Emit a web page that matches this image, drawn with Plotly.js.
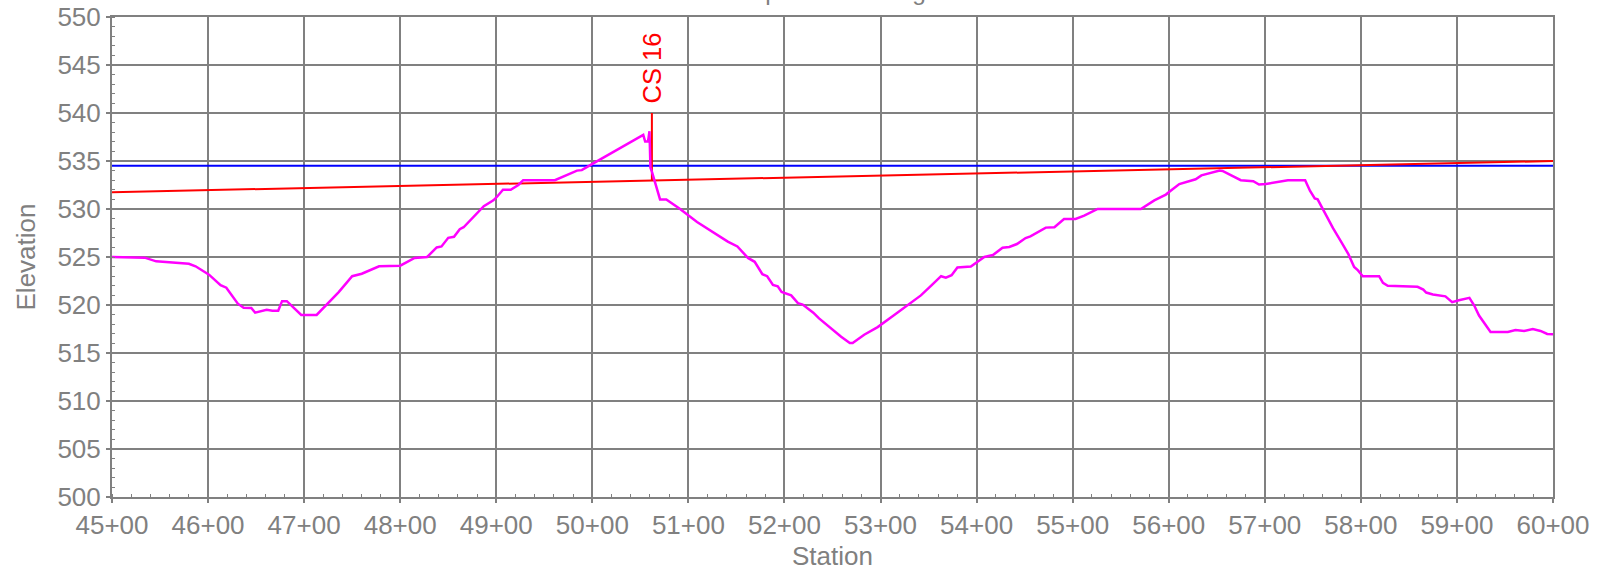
<!DOCTYPE html>
<html>
<head>
<meta charset="utf-8">
<script src="https://cdn.plot.ly/plotly-3.0.1.min.js"></script>
<style>html,body{margin:0;padding:0;background:#fff;}#chart{width:1600px;height:572px;}</style>
</head>
<body>
<div id="chart"></div>
<script>
// Ground profile (station, elevation)
const groundStation = [4500,4534,4546,4560,4572,4580,4587,4601,4613,4619,4631,4637,4645,4649,4661,4667,4673,4677,4682,4687,4697,4713,4723,4736,4750,4760,4778,4800,4815,4828,4838,4843,4850,4856,4862,4866,4887,4897,4901,4907,4915,4923,4928,4961,4984,4989,5001,5053,5055,5058,5059.5,5060.5,5062,5070.5,5077,5091,5109,5125,5141,5151,5162,5169,5172,5177,5182,5188,5193,5197,5207,5214,5219,5230,5236,5250,5259,5268,5271,5283,5297,5315,5329,5342,5353,5363,5368,5374,5380,5394,5408,5417,5427,5434,5442,5451,5456,5472,5481,5491,5503,5512,5526,5571,5585,5597,5602,5611,5628,5634,5653,5656,5675,5688,5694,5701,5724,5742,5747,5752,5755,5771,5780,5787,5793,5797,5802,5819,5823,5828,5859,5865,5868,5875,5888,5895,5902,5913,5918,5923,5935,5953,5961,5970,5979,5987,5994,6000];
const groundElev = [525.0,524.93,524.55,524.44,524.34,524.3,524.03,523.16,522.06,521.8,520.14,519.72,519.69,519.2,519.5,519.4,519.4,520.4,520.4,519.9,518.96,518.96,519.97,521.35,523.0,523.26,524.03,524.1,524.9,525.0,526.0,526.1,527.0,527.1,527.9,528.1,530.3,530.9,531.3,532.0,532.0,532.5,533.0,533.0,534.0,534.05,534.76,537.73,537.03,537.03,538.1,534.3,533.9,531.0,531.0,530.03,528.65,527.6,526.6,526.1,524.9,524.5,524.0,523.2,523.0,522.1,521.95,521.35,521.0,520.2,520.05,519.2,518.6,517.4,516.7,516.04,516.04,516.9,517.7,519.0,520.07,521.0,522.05,523.0,522.85,523.1,523.9,524.0,525.0,525.2,525.97,526.05,526.35,526.97,527.15,528.06,528.1,528.96,528.96,529.3,530.0,530.0,530.9,531.5,531.9,532.6,533.1,533.5,534.0,533.96,533.0,532.9,532.55,532.6,533.0,533.0,531.9,531.1,531.0,528.0,526.5,525.3,523.96,523.6,523.0,523.0,522.3,522.0,521.9,521.6,521.3,521.1,520.9,520.3,520.5,520.75,519.95,518.9,517.2,517.2,517.4,517.3,517.5,517.3,516.98,516.95];

// Blue level line
const blueStation = [4500, 6000];
const blueElev = [534.5, 534.5];

// Red grade line
const redStation = [4500, 6000];
const redElev = [531.75, 535.0];

// Cross-section marker
const csStation = 5062;
const csTop = 540;
const csLabel = "CS 16";

// Axis ticks
const xTickVals = [4500,4600,4700,4800,4900,5000,5100,5200,5300,5400,5500,5600,5700,5800,5900,6000];
const xTickText = ["45+00","46+00","47+00","48+00","49+00","50+00","51+00","52+00","53+00","54+00","55+00","56+00","57+00","58+00","59+00","60+00"];
const yTickVals = [500,505,510,515,520,525,530,535,540,545,550];

const chartTitle = "Proposed Grading";

// red elevation at CS station (interpolated from red line data)
const csBottom = redElev[0] + (redElev[1]-redElev[0])*(csStation-redStation[0])/(redStation[1]-redStation[0]);

const gray = "#808080";
const fontFam = "'Liberation Sans', Arial, sans-serif";

const traces = [
  {x: blueStation, y: blueElev, mode: "lines", line: {color: "#0000FF", width: 2}, hoverinfo: "skip"},
  {x: redStation, y: redElev, mode: "lines", line: {color: "#FF0000", width: 2}, hoverinfo: "skip"},
  {x: [csStation, csStation], y: [csBottom, csTop], mode: "lines", line: {color: "#FF0000", width: 2}, hoverinfo: "skip"},
  {x: groundStation, y: groundElev, mode: "lines", line: {color: "#FF00FF", width: 2.5}, hoverinfo: "skip"}
];

const layout = {
  width: 1600, height: 572,
  margin: {l: 112, r: 47, t: 17, b: 75},
  paper_bgcolor: "#fff", plot_bgcolor: "#fff",
  showlegend: false,
  font: {family: fontFam, color: gray, size: 26},
  title: {text: chartTitle, font: {family: fontFam, size: 24.5, color: gray}, x: 0.4958, xref: "paper", y: 1.0, yref: "container", yanchor: "bottom"},
  xaxis: {
    range: [4500, 6000], tickmode: "array", tickvals: xTickVals, ticktext: xTickText,
    showgrid: true, gridcolor: gray, gridwidth: 2,
    showline: true, linecolor: gray, linewidth: 2, mirror: true,
    ticks: "outside", ticklen: 4, tickcolor: gray, tickwidth: 2,
    tickfont: {size: 26, color: gray},
    zeroline: false,
    minor: {dtick: 20, ticks: "inside", ticklen: 3, tickcolor: gray, tickwidth: 1, showgrid: false},
    title: {text: "Station", font: {size: 26, color: gray}, standoff: 8}
  },
  yaxis: {
    range: [500, 550], tickmode: "array", tickvals: yTickVals,
    showgrid: true, gridcolor: gray, gridwidth: 2,
    showline: true, linecolor: gray, linewidth: 2, mirror: true,
    ticks: "outside", ticklen: 4, tickcolor: gray, tickwidth: 2,
    tickfont: {size: 26, color: gray},
    zeroline: false,
    minor: {dtick: 1, ticks: "inside", ticklen: 3, tickcolor: gray, tickwidth: 1, showgrid: false},
    title: {text: "Elevation", font: {size: 26, color: gray}, standoff: 14}
  },
  annotations: [{
    x: csStation, y: csTop, xref: "x", yref: "y", text: csLabel, textangle: -90,
    showarrow: false, xanchor: "center", yanchor: "bottom", yshift: 8,
    font: {family: fontFam, size: 25.5, color: "#FF0000"}
  }]
};

Plotly.newPlot("chart", traces, layout, {staticPlot: true, displayModeBar: false});
</script>
</body>
</html>
